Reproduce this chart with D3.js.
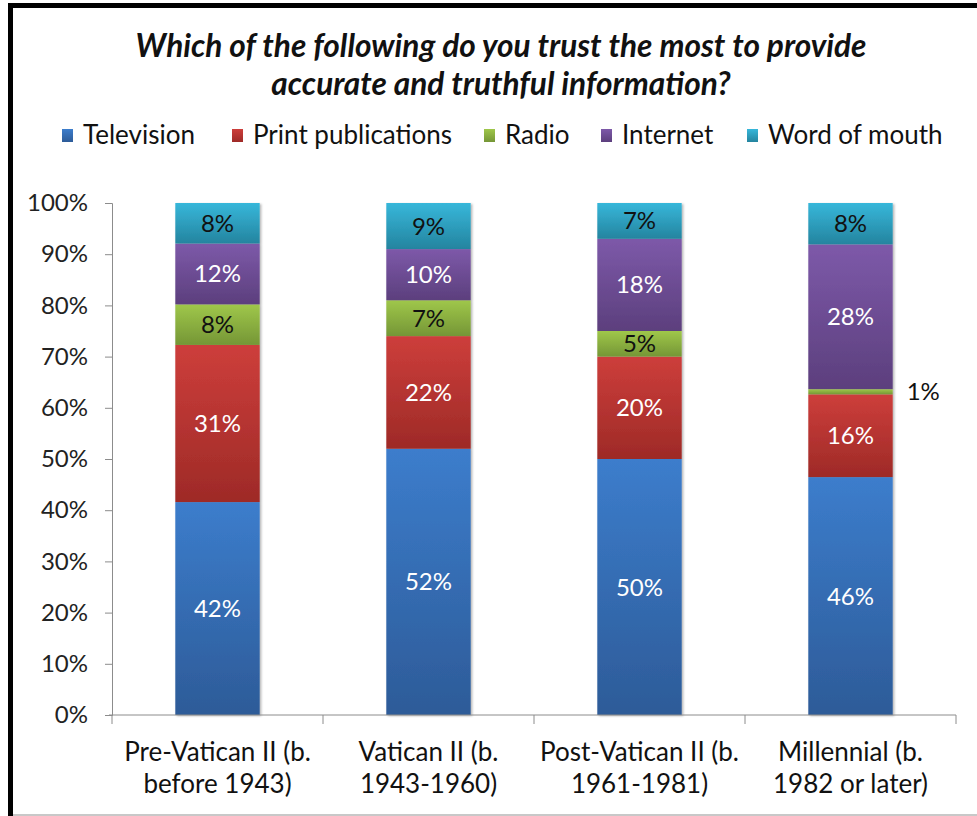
<!DOCTYPE html>
<html>
<head>
<meta charset="utf-8">
<script src="https://cdn.jsdelivr.net/npm/d3@7"></script>
<style>
  html, body { margin: 0; padding: 0; background: #fff; }
  svg { display: block; font-family: Lato, "Open Sans", sans-serif; }
</style>
</head>
<body>
<svg id="chart" width="977" height="816"></svg>
<script>
// Survey: most trusted source of accurate and truthful information, by generation
const titleLines = [
  "Which of the following do you trust the most to provide",
  "accurate and truthful information?"
];
const categories = [
  ["Pre-Vatican II (b.", "before 1943)"],
  ["Vatican II (b.", "1943-1960)"],
  ["Post-Vatican II (b.", "1961-1981)"],
  ["Millennial (b.", "1982 or later)"]
];
const seriesNames = ["Television", "Print publications", "Radio", "Internet", "Word of mouth"];
const television = [42, 52, 50, 46];
const printPubs  = [31, 22, 20, 16];
const radio      = [8, 7, 5, 1];
const internet   = [12, 10, 18, 28];
const wordOfMouth = [8, 9, 7, 8];
const yTicks = [0, 0.1, 0.2, 0.3, 0.4, 0.5, 0.6, 0.7, 0.8, 0.9, 1.0];

const seriesValues = [television, printPubs, radio, internet, wordOfMouth];
const colorTop    = ["#3c7dcc", "#cd3e3b", "#9fc74a", "#7d59a9", "#37b7da"];
const colorBottom = ["#2d5b98", "#9e2a27", "#759636", "#5c3f7d", "#24849f"];
const labelColor  = ["#ffffff", "#ffffff", "#111111", "#ffffff", "#111111"];

const rows = categories.map((c, i) => {
  const r = { key: i };
  seriesNames.forEach((s, j) => { r[s] = seriesValues[j][i]; });
  return r;
});

const stack = d3.stack().keys(seriesNames).offset(d3.stackOffsetExpand);
const stacked = stack(rows);

const svg = d3.select("#chart");
const W = 977, H = 816;
const plot = { left: 112, right: 956, top: 203, bottom: 715 };

// frame lines
svg.append("rect").attr("x", 8).attr("y", 3).attr("width", W - 8).attr("height", 5).attr("fill", "#000");
svg.append("rect").attr("x", 8).attr("y", 3).attr("width", 5).attr("height", H - 3).attr("fill", "#000");
svg.append("rect").attr("x", 13).attr("y", 814).attr("width", W - 13).attr("height", 2).attr("fill", "#c8c8c8");

const defs = svg.append("defs");
seriesNames.forEach((s, j) => {
  const g = defs.append("linearGradient").attr("id", "grad" + j)
    .attr("x1", 0).attr("y1", 0).attr("x2", 0).attr("y2", 1);
  g.append("stop").attr("offset", "0%").attr("stop-color", colorTop[j]);
  g.append("stop").attr("offset", "100%").attr("stop-color", colorBottom[j]);
});
const shadow = defs.append("filter").attr("id", "shadow")
  .attr("x", "-10%").attr("y", "-10%").attr("width", "130%").attr("height", "120%");
shadow.append("feDropShadow").attr("dx", 1.5).attr("dy", 1).attr("stdDeviation", 1.2)
  .attr("flood-color", "#000").attr("flood-opacity", 0.3);

const x = d3.scaleBand().domain(d3.range(categories.length))
  .range([plot.left, plot.right]).paddingInner(0.6).paddingOuter(0.3);
const xCat = d3.scaleBand().domain(d3.range(categories.length))
  .range([plot.left, plot.right]).padding(0);
const y = d3.scaleLinear().domain([0, 1]).range([plot.bottom, plot.top]);

// title
svg.append("g").selectAll("text").data(titleLines).join("text")
  .attr("x", 501).attr("y", (d, i) => 57 + i * 38)
  .attr("text-anchor", "middle")
  .attr("font-size", 31.6).attr("font-weight", "bold").attr("font-style", "italic")
  .attr("fill", "#111")
  .text(d => d);

// legend
const legendX = [62, 232, 484, 601, 747];
const legend = svg.append("g");
seriesNames.forEach((s, j) => {
  const g = legend.append("g").attr("transform", `translate(${legendX[j]},0)`);
  g.append("rect").attr("x", 0).attr("y", 129).attr("width", 11).attr("height", 13)
    .attr("fill", `url(#grad${j})`);
  g.append("text").attr("x", 21).attr("y", 144).attr("font-size", 26).attr("fill", "#111").text(s);
});

// bars
const layers = svg.append("g").attr("filter", "url(#shadow)");
stacked.forEach((layer, j) => {
  layers.append("g").selectAll("rect").data(layer).join("rect")
    .attr("x", (d, i) => x(i))
    .attr("width", x.bandwidth())
    .attr("y", d => y(d[1]))
    .attr("height", d => y(d[0]) - y(d[1]))
    .attr("fill", `url(#grad${j})`);
});

// data labels
const labels = svg.append("g").attr("font-size", 24);
stacked.forEach((layer, j) => {
  layer.forEach((d, i) => {
    const v = seriesValues[j][i];
    const h = y(d[0]) - y(d[1]);
    const cy = (y(d[0]) + y(d[1])) / 2;
    const outside = h < 18;
    labels.append("text")
      .attr("x", outside ? x(i) + x.bandwidth() + 14 : x(i) + x.bandwidth() / 2)
      .attr("y", cy + 8.5)
      .attr("text-anchor", outside ? "start" : "middle")
      .attr("fill", outside ? "#111" : labelColor[j])
      .text(v + "%");
  });
});

// y axis
const yAxis = d3.axisLeft(y).tickValues(yTicks).tickFormat(d3.format(".0%")).tickSize(7).tickPadding(17);
const gy = svg.append("g").attr("transform", `translate(${plot.left},0)`).call(yAxis);
gy.select(".domain").attr("stroke", "#8c8c8c");
gy.selectAll(".tick line").attr("stroke", "#8c8c8c");
gy.selectAll(".tick text").attr("font-size", 24).attr("fill", "#222").attr("font-family", "Lato, sans-serif");

// x axis
const gx = svg.append("g").attr("transform", `translate(0,${plot.bottom})`);
gx.append("line").attr("x1", plot.left - 3).attr("x2", plot.right).attr("y1", 0).attr("y2", 0).attr("stroke", "#8c8c8c");
const boundaries = d3.range(categories.length).map(i => xCat(i)).concat([xCat(categories.length - 1) + xCat.bandwidth()]);
gx.selectAll("line.sep").data(boundaries).join("line").attr("class", "sep")
  .attr("x1", d => d).attr("x2", d => d).attr("y1", 0).attr("y2", 9).attr("stroke", "#8c8c8c");
gx.selectAll("text.cat").data(categories).join("text").attr("class", "cat")
  .attr("text-anchor", "middle").attr("font-size", 26).attr("fill", "#111")
  .attr("transform", (d, i) => `translate(${xCat(i) + xCat.bandwidth() / 2},0)`)
  .each(function (d) {
    d3.select(this).selectAll("tspan").data(d).join("tspan")
      .attr("x", 0).attr("y", (t, k) => 46 + k * 32).text(t => t);
  });
</script>
</body>
</html>
